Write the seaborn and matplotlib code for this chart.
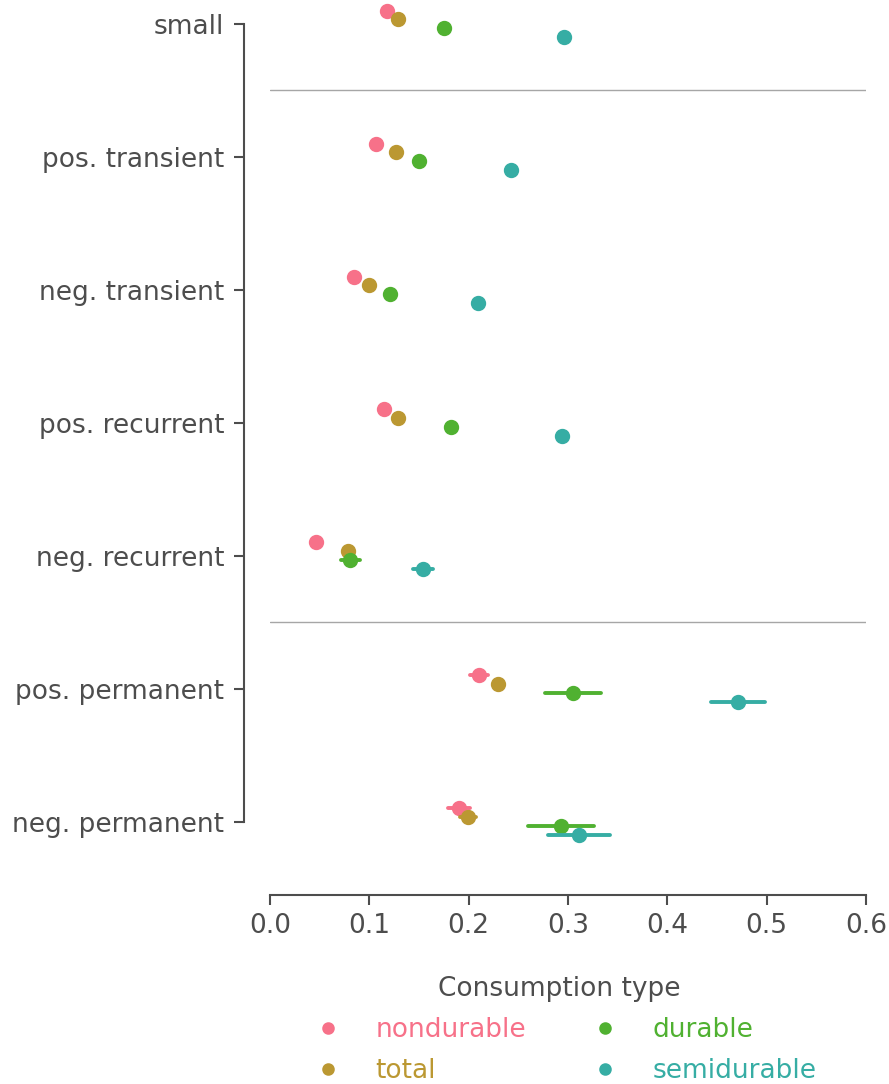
import numpy as np
import pandas as pd
import matplotlib
matplotlib.use("Agg")
import matplotlib.pyplot as plt
import seaborn as sns

# shock categories (top to bottom) and consumption types
shocks = ["small", "pos. transient", "neg. transient", "pos. recurrent",
          "neg. recurrent", "pos. permanent", "neg. permanent"]
types = ["nondurable", "total", "durable", "semidurable"]

# point estimates per consumption type, one value per shock
nondurable = [0.118, 0.107, 0.085, 0.115, 0.046, 0.210, 0.190]
total = [0.129, 0.127, 0.100, 0.129, 0.079, 0.230, 0.199]
durable = [0.175, 0.150, 0.121, 0.182, 0.081, 0.305, 0.293]
semidurable = [0.296, 0.243, 0.209, 0.294, 0.154, 0.471, 0.311]

# half-widths of the error bars
nondurable_err = [0.003, 0.003, 0.003, 0.003, 0.004, 0.009, 0.011]
total_err = [0.003, 0.003, 0.003, 0.003, 0.005, 0.005, 0.008]
durable_err = [0.004, 0.004, 0.004, 0.005, 0.010, 0.028, 0.033]
semidurable_err = [0.005, 0.005, 0.005, 0.005, 0.010, 0.027, 0.031]

centers = {"nondurable": nondurable, "total": total,
           "durable": durable, "semidurable": semidurable}
errs = {"nondurable": nondurable_err, "total": total_err,
        "durable": durable_err, "semidurable": semidurable_err}

# long-form table: lower and upper bound rows, so the mean is the centre
rows = []
for t in types:
    for s, c, e in zip(shocks, centers[t], errs[t]):
        rows.append({"shock": s, "type": t, "value": c - e})
        rows.append({"shock": s, "type": t, "value": c + e})
df = pd.DataFrame(rows)

sns.set_theme(style="ticks")
grey = "0.3"
plt.rcParams.update({
    "font.family": ["DejaVu Sans"],
    "font.size": 19,
    "text.color": grey,
    "axes.edgecolor": grey,
    "axes.labelcolor": grey,
    "xtick.color": grey,
    "ytick.color": grey,
    "xtick.labelsize": 19,
    "ytick.labelsize": 19,
    "axes.linewidth": 1.5,
    "xtick.major.width": 1.5,
    "ytick.major.width": 1.5,
    "xtick.major.size": 7,
    "ytick.major.size": 7,
    "xtick.major.pad": 6,
    "ytick.major.pad": 7,
})

palette = sns.color_palette("husl", 6)[:4]

fig = plt.figure(figsize=(8.89, 10.84), dpi=100)
ax = fig.add_axes([270 / 889, 1 - 888 / 1084, 596 / 889, 888 / 1084])

sns.pointplot(data=df, x="value", y="shock", hue="type",
              order=shocks, hue_order=types, palette=palette,
              estimator="mean", errorbar=lambda v: (v.min(), v.max()),
              dodge=0.2, linestyle="none", markers="o", markersize=9,
              err_kws={"linewidth": 2.8}, ax=ax)

ax.set_xlim(0, 0.6)
ax.set_xticks(np.arange(0, 0.61, 0.1))
ax.set_ylim(6.5, -0.18)
ax.set_xlabel("")
ax.set_ylabel("")

# separators between shock groups
ax.axhline(0.5, color="0.65", lw=1)
ax.axhline(4.5, color="0.65", lw=1)

sns.despine(ax=ax, trim=True, offset={"left": 19, "bottom": 5})

sns.move_legend(ax, "upper center", bbox_to_anchor=(0.485, -0.072), ncol=2,
                frameon=False, title="Consumption type", fontsize=19,
                title_fontsize=19, labelspacing=0.58)
leg = ax.get_legend()
for txt, col in zip(leg.get_texts(), palette):
    txt.set_color(col)
for h in leg.legend_handles:
    h.set_markersize(7)

fig.savefig("out.png", dpi=100)
